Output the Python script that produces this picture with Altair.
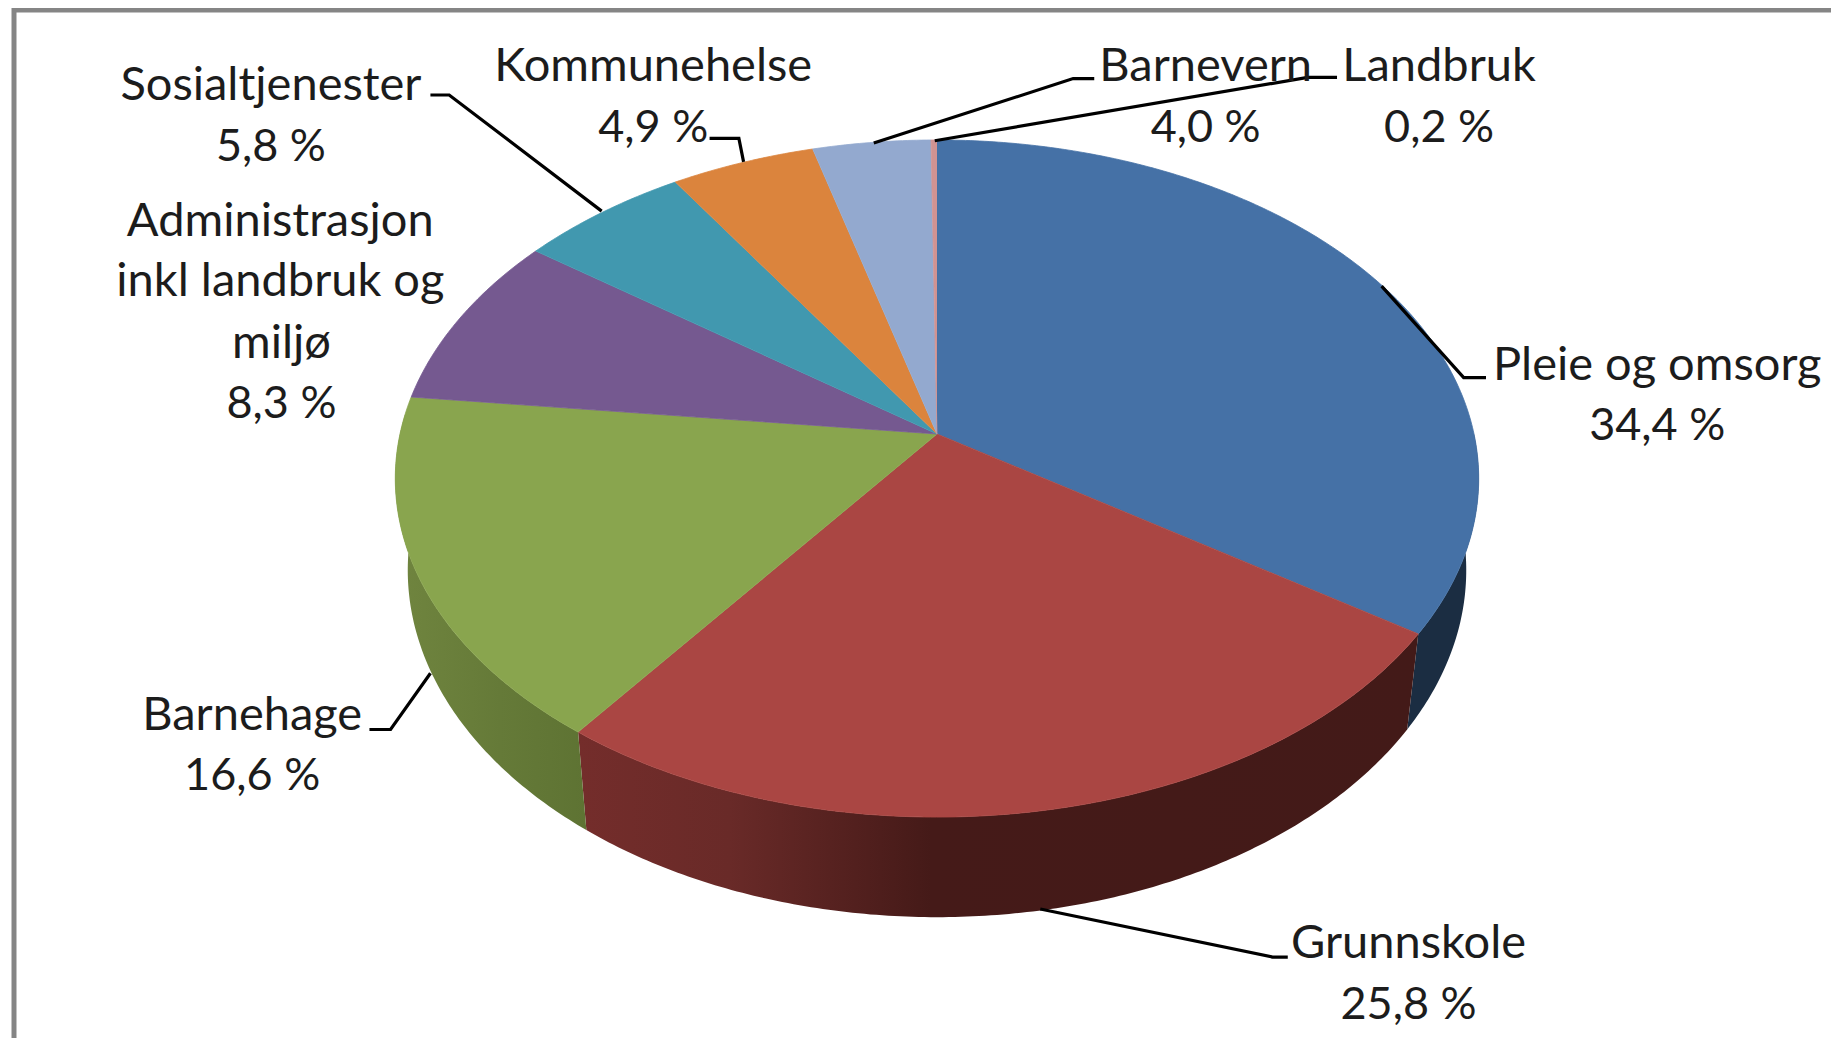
import math
import altair as alt
import pandas as pd

# ---- chart values ----
categories = ["Pleie og omsorg", "Grunnskole", "Barnehage",
              "Administrasjon inkl landbruk og miljø", "Sosialtjenester",
              "Kommunehelse", "Barnevern", "Landbruk"]
shares = [34.4, 25.8, 16.6, 8.3, 5.8, 4.9, 4.0, 0.2]
top_colors = ["#4571A6", "#AA4643", "#89A54E", "#755990", "#4198AF", "#DB843D", "#93A9CF", "#D19392"]

# label text, one entry per printed line
label_lines = ["Sosialtjenester", "5,8 %", "Administrasjon", "inkl landbruk og", "miljø", "8,3 %",
               "Kommunehelse", "4,9 %", "Barnevern", "4,0 %", "Landbruk", "0,2 %",
               "Pleie og omsorg", "34,4 %", "Barnehage", "16,6 %", "Grunnskole", "25,8 %"]
label_size = [47, 45, 47, 47, 47, 45, 47, 45, 47, 45, 47, 45, 47, 45, 47, 45, 47, 45]

# ---- layout (reference pixels) ----
S = 1839 / 1568
label_x = [231, 231, 239, 239, 240, 240, 557, 557, 1028, 1028, 1227, 1227, 1413, 1413, 215, 215, 1201, 1201]
label_y = [85, 137, 201, 252, 305, 356, 69, 121, 69, 121, 69, 121, 324, 375, 622, 674, 817, 869]
leaders = [
    [(367, 81), (383, 81), (513, 180)],
    [(605, 118), (630, 118), (634, 138)],
    [(933, 67), (915, 67), (745, 122)],
    [(1140, 66), (1115, 66), (797, 120)],
    [(1267, 322), (1248, 322), (1178, 244)],
    [(1098, 816), (1085, 816), (887, 775)],
    [(315, 622), (333, 622), (367, 574)],
]
CX, CY, R, D, K = 937.0, 434.0, 537.0, 332.7, 0.1315   # projected circle
FX, GY, YB = 0.977, 1.025, 524.5                        # lower rim
W, H = 1823, 1030


def top(a):
    u, v = math.sin(a), -math.cos(a)
    w = 1 - K * v
    return CX + R * u / w, CY + D * v / w


def bottom(a):
    x, y = top(a)
    return CX + FX * (x - CX), YB + GY * (y - CY)


def arc(a0, a1, fn):
    n = max(2, int(abs(a1 - a0) / 0.01))
    return [fn(a0 + (a1 - a0) * i / n) for i in range(n + 1)]


X = alt.X("x:Q", axis=None, scale=alt.Scale(domain=[8, 8 + W], range=[0, W], nice=False, zero=False))
Y = alt.Y("y:Q", axis=None, scale=alt.Scale(domain=[8, 8 + H], range=[0, H], nice=False, zero=False))


def poly(points, fill, stroke=None):
    df = pd.DataFrame({"x": [p[0] for p in points], "y": [p[1] for p in points], "o": range(len(points))})
    kw = {"fill": fill, "strokeWidth": 0.8 if stroke else 0}
    kw["stroke"] = stroke if stroke else "transparent"
    return alt.Chart(df).mark_line(**kw).encode(x=X, y=Y, order="o:Q")


def grad(stops, x1=0, x2=1):
    return alt.Gradient(gradient="linear", x1=x1, x2=x2, y1=0, y2=0,
                        stops=[alt.GradientStop(offset=o, color=c) for o, c in stops])


# slice angles
cum = [0.0]
for s in shares:
    cum.append(cum[-1] + s)
ang = [c / 100 * 2 * math.pi for c in cum]

layers = []

# side walls (front part only is visible)
side_fills = [
    "#1B2D42",
    grad([(0, "#742D2B"), (0.18, "#692A28"), (0.42, "#451A18"), (1, "#431A18")]),
    grad([(0, "#70853F"), (0.55, "#657A38"), (1, "#5E7333")]),
]
for i, f in enumerate(side_fills):
    a0, a1 = ang[i], ang[i + 1]
    if i == 0:
        a0 = math.pi / 2
    if i == 2:
        a1 = 1.52 * math.pi
    t = arc(a0, a1, top)
    b = arc(a0, a1, bottom)
    layers.append(poly(t + b[::-1], f))

# top faces
for i, c in enumerate(top_colors):
    layers.append(poly([(CX, CY)] + arc(ang[i], ang[i + 1], top), c, c))

# frame
frame_df = pd.DataFrame({"x": [14, 14, 8 + W], "y": [8 + H, 10, 10], "o": [0, 1, 2]})
frame = alt.Chart(frame_df).mark_line(color="#858585", strokeWidth=5).encode(x=X, y=Y, order="o:Q")
layers.insert(0, frame)

# leader lines
rows = []
for k, line in enumerate(leaders):
    for j, (x, y) in enumerate(line):
        rows.append({"x": x * S, "y": y * S, "k": k, "o": j})
lead = alt.Chart(pd.DataFrame(rows)).mark_line(color="#000000", strokeWidth=3.2).encode(
    x=X, y=Y, detail="k:N", order="o:Q")
layers.append(lead)

# labels
text_df = pd.DataFrame({"x": [v * S for v in label_x], "y": [v * S for v in label_y],
                        "t": label_lines, "s": label_size})
text = alt.Chart(text_df).mark_text(font="Lato", color="#1C1C1C", align="center",
                                    baseline="alphabetic").encode(
    x=X, y=Y, text="t:N", size=alt.Size("s:Q", scale=None, legend=None))
layers.append(text)

chart = alt.layer(*layers).properties(
    width=W, height=H, padding=0, autosize=alt.AutoSizeParams(type="none"),
).configure_view(stroke=None)
chart.save("out.html", embed_options={"renderer": "svg", "actions": False})
